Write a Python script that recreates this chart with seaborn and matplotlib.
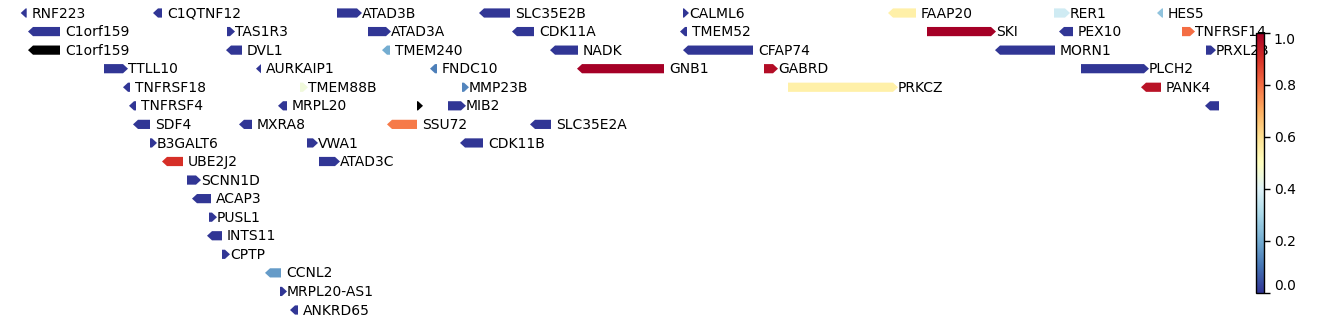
import numpy as np
import matplotlib
matplotlib.use("Agg")
import matplotlib.pyplot as plt
from matplotlib.patches import Polygon
import matplotlib.colors as mcolors
import seaborn as sns

# ---- data (positions in track units, rows top->bottom) ----
genes = ["RNF223", "C1QTNF12", "ATAD3B", "SLC35E2B", "CALML6", "FAAP20", "RER1", "HES5",
         "C1orf159", "TAS1R3", "ATAD3A", "CDK11A", "TMEM52", "SKI", "PEX10", "TNFRSF14",
         "C1orf159", "DVL1", "TMEM240", "NADK", "CFAP74", "MORN1", "PRXL2B",
         "TTLL10", "AURKAIP1", "FNDC10", "GNB1", "GABRD", "PLCH2",
         "TNFRSF18", "TMEM88B", "MMP23B", "PRKCZ", "PANK4",
         "TNFRSF4", "MRPL20", "", "MIB2", "",
         "SDF4", "MXRA8", "SSU72", "SLC35E2A",
         "B3GALT6", "VWA1", "CDK11B",
         "UBE2J2", "ATAD3C",
         "SCNN1D", "ACAP3", "PUSL1", "INTS11", "CPTP", "CCNL2", "MRPL20-AS1", "ANKRD65"]
rows = [0, 0, 0, 0, 0, 0, 0, 0,
        1, 1, 1, 1, 1, 1, 1, 1,
        2, 2, 2, 2, 2, 2, 2,
        3, 3, 3, 3, 3, 3,
        4, 4, 4, 4, 4,
        5, 5, 5, 5, 5,
        6, 6, 6, 6,
        7, 7, 7,
        8, 8,
        9, 10, 11, 12, 13, 14, 15, 16]
starts = [20.7, 153, 337, 479, 683, 888, 1054, 1157,
          28, 227, 368, 512, 680, 927, 1059, 1182,
          28, 226, 382, 550, 683, 995, 1206,
          104, 256, 430, 577, 764, 1081,
          123, 300, 462, 788, 1141,
          129, 278, 417, 448, 1205,
          133, 239, 387, 530,
          150, 307, 460,
          162, 319,
          187, 192, 209, 207, 222, 265, 280, 290]
ends = [26.7, 162, 362, 510, 689, 916, 1070, 1163,
        60, 235, 391, 534, 687, 996, 1073, 1195,
        60, 242, 390, 578, 753, 1055, 1216,
        128, 261, 437, 664, 778, 1149,
        130, 308, 469, 898, 1161,
        136, 287, 423, 466, 1219,
        150, 252, 417, 551,
        157, 318, 483,
        183, 340,
        201, 211, 217, 222, 230, 281, 287, 298]
strands = ["-", "-", "+", "-", "+", "-", "+", "-",
           "-", "+", "+", "-", "-", "+", "-", "+",
           "-", "-", "-", "-", "-", "-", "+",
           "+", "-", "-", "-", "+", "+",
           "-", "+", "+", "+", "-",
           "-", "-", "+", "+", "-",
           "-", "-", "-", "-",
           "+", "+", "-",
           "-", "+",
           "+", "-", "+", "-", "+", "-", "+", "-"]
values = [0, 0, 0, 0, 0, 0.55, 0.37, 0.25,
          0, 0, 0, 0, 0, 1.0, 0, 0.8,
          np.nan, 0, 0.2, 0, 0, 0, 0,
          0, 0, 0.12, 1.0, 0.97, 0,
          0, 0.45, 0.13, 0.55, 0.96,
          0, 0, np.nan, 0, 0,
          0, 0, 0.78, 0,
          0, 0, 0,
          0.9, 0,
          0, 0, 0, 0, 0, 0.17, 0, 0]
cbar_ticks = [0.0, 0.2, 0.4, 0.6, 0.8, 1.0]

# ---- figure ----
sns.set_style("white")
plt.rcParams['font.family'] = ['DejaVu Sans']
W, H = 1338, 324
fig = plt.figure(figsize=(W / 100, H / 100), dpi=100)
ax = fig.add_axes([0, 0, 1, 1])
row_px0, row_step = 13.0, (310 - 13) / 16.0
ax.set_xlim(0, W)
ax.set_ylim((H - row_px0) / row_step, -row_px0 / row_step)
ax.axis("off")

cmap = sns.color_palette("RdYlBu_r", as_cmap=True).copy()
cmap.set_bad("black")
norm = mcolors.Normalize(vmin=0, vmax=1)

half_h = 4.6 / row_step
head = 5.0
text_dy = 0.6 / row_step
for g, r, s, e, st, v in zip(genes, rows, starts, ends, strands, values):
    hl = min(head, e - s)
    color = "black" if np.isnan(v) else cmap(norm(v))
    if st == "+":
        pts = [(s, r - half_h), (e - hl, r - half_h), (e, r), (e - hl, r + half_h), (s, r + half_h)]
        tx = e + 0.0
    else:
        pts = [(s, r), (s + hl, r - half_h), (e, r - half_h), (e, r + half_h), (s + hl, r + half_h)]
        tx = e + 5.0
    ax.add_patch(Polygon(pts, closed=True, facecolor=color, edgecolor="none", lw=0))
    if g:
        ax.text(tx, r + text_dy, g, va="center", ha="left", fontsize=10, color="black")

# ---- colorbar ----
cax = fig.add_axes([1256 / W, (H - 292.5) / H, 7.5 / W, 260 / H])
sm = matplotlib.cm.ScalarMappable(norm=norm, cmap=cmap)
cb = fig.colorbar(sm, cax=cax, ticks=cbar_ticks)
cb.outline.set_linewidth(1.0)
cb.outline.set_edgecolor("black")
cax.tick_params(labelsize=10, length=4, width=1, colors="black", direction="out", right=True)
fig.canvas.draw()
labs = cax.get_yticklabels()
labs[0].set_va("bottom")
labs[-1].set_va("top")

fig.savefig("out.png", dpi=100)
